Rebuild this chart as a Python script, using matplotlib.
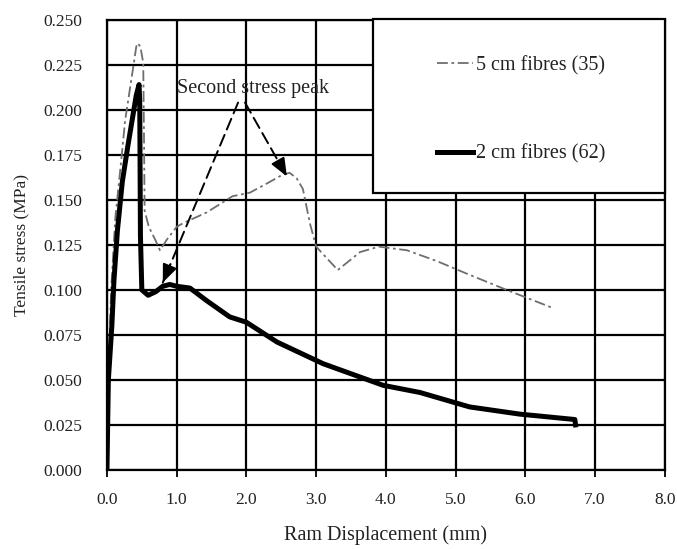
import matplotlib
matplotlib.use("Agg")
import matplotlib.pyplot as plt
from matplotlib.patches import Rectangle
import numpy as np

plt.rcParams['font.family'] = ['Liberation Serif', 'DejaVu Serif']

# 2 cm fibres (62)
x_2cm = [0, 0.02, 0.07, 0.10, 0.15, 0.22, 0.30, 0.36, 0.42, 0.46, 0.47, 0.48, 0.50,
         0.59, 0.70, 0.80, 0.90, 1.00, 1.19, 1.43, 1.76, 2.00, 2.44, 3.10, 3.96,
         4.49, 5.20, 5.92, 6.71, 6.72]
y_2cm = [0, 0.050, 0.080, 0.105, 0.133, 0.160, 0.180, 0.194, 0.208, 0.214, 0.205, 0.130, 0.100,
         0.097, 0.099, 0.102, 0.103, 0.102, 0.101, 0.094, 0.085, 0.082, 0.071, 0.059, 0.047,
         0.043, 0.035, 0.031, 0.028, 0.025]

# 5 cm fibres (35)
x_5cm = [0, 0.02, 0.06, 0.12, 0.21, 0.26, 0.37, 0.42, 0.44, 0.48, 0.52, 0.53, 0.54,
         0.60, 0.69, 0.76, 0.86, 1.00, 1.09, 1.43, 1.80, 2.05, 2.29, 2.52, 2.62,
         2.72, 2.81, 2.91, 3.00, 3.31, 3.63, 3.90, 4.30, 4.73, 5.16, 5.73, 6.39]
y_5cm = [0, 0.050, 0.100, 0.140, 0.174, 0.194, 0.222, 0.235, 0.237, 0.235, 0.226, 0.190, 0.144,
         0.135, 0.128, 0.122, 0.128, 0.135, 0.137, 0.143, 0.152, 0.154, 0.159, 0.164, 0.165,
         0.162, 0.156, 0.137, 0.124, 0.111, 0.121, 0.124, 0.122, 0.116, 0.109, 0.100, 0.090]

x_ticks = [0, 1, 2, 3, 4, 5, 6, 7, 8]
x_tick_labels = ["0.0", "1.0", "2.0", "3.0", "4.0", "5.0", "6.0", "7.0", "8.0"]
y_ticks = [0, 0.025, 0.05, 0.075, 0.1, 0.125, 0.15, 0.175, 0.2, 0.225, 0.25]
y_tick_labels = ["0.000", "0.025", "0.050", "0.075", "0.100", "0.125", "0.150",
                 "0.175", "0.200", "0.225", "0.250"]

label_5cm = "5 cm fibres (35)"
label_2cm = "2 cm fibres (62)"
annot_text = "Second stress peak"
annot_xy = (2.09, 0.212)
arrow_starts = [(1.88, 0.204), (1.98, 0.204)]
arrow_tips = [(0.80, 0.104), (2.58, 0.163)]

fig = plt.figure(figsize=(6.77, 5.49), dpi=100)
ax = fig.add_axes([0.158, 0.144, 0.824, 0.820])

ax.set_xlim(0, 8)
ax.set_ylim(0, 0.25)
ax.set_xticks(x_ticks)
ax.set_xticklabels(x_tick_labels, fontsize=12.5, color='#222222')
ax.set_yticks(y_ticks)
ax.set_yticklabels(y_tick_labels, fontsize=12.5, color='#222222')
ax.tick_params(axis='y', length=0, pad=18)
ax.tick_params(axis='x', length=5, width=1.3, direction='out', pad=11)
ax.grid(True, color='black', linewidth=1.6)
ax.set_axisbelow(True)
for s in ax.spines.values():
    s.set_linewidth(1.6)

ax.set_xlabel("Ram Displacement (mm)", fontsize=14.5, labelpad=12, color='#222222')
ax.set_ylabel("Tensile stress (MPa)", fontsize=12.5, labelpad=10, color='#222222')

l5, = ax.plot(x_5cm, y_5cm, color='#6e6e6e', linewidth=1.3,
              linestyle=(0, (6, 2, 1.5, 2)), zorder=3)
l2, = ax.plot(x_2cm, y_2cm, color='black', linewidth=3.6, zorder=4,
              solid_joinstyle='round')

# legend box
rect = Rectangle((3.81, 0.154), 8.0 - 3.81, 0.0965, transform=ax.transData,
                 facecolor='white', edgecolor='black', linewidth=1.6,
                 zorder=5, clip_on=False)
ax.add_patch(rect)
leg = ax.legend([l5, l2], [label_5cm, label_2cm], loc='upper left',
                bbox_to_anchor=(0.591, 0.92), frameon=False, fontsize=14.5,
                handlelength=1.8, handletextpad=0.15, labelspacing=3.43,
                borderpad=0, borderaxespad=0)
leg.set_zorder(6)
for t in leg.get_texts():
    t.set_color('#222222')

ax.text(annot_xy[0], annot_xy[1], annot_text, fontsize=14.5, ha='center',
        va='center', zorder=6, color='#222222')
for st, tp in zip(arrow_starts, arrow_tips):
    ax.annotate("", xy=tp, xytext=st,
                arrowprops=dict(arrowstyle='-', linestyle=(0, (6, 3)),
                                color='black', linewidth=1.4,
                                shrinkA=0, shrinkB=0), zorder=6)
    dx = st[0] - tp[0]
    dy = st[1] - tp[1]
    f = 0.1
    back = (tp[0] + dx * f, tp[1] + dy * f)
    ax.annotate("", xy=tp, xytext=back,
                arrowprops=dict(arrowstyle='-|>,head_length=1.1,head_width=0.45',
                                color='black', linewidth=1.4,
                                shrinkA=0, shrinkB=0), zorder=6)

fig.savefig("out.png", dpi=100)
